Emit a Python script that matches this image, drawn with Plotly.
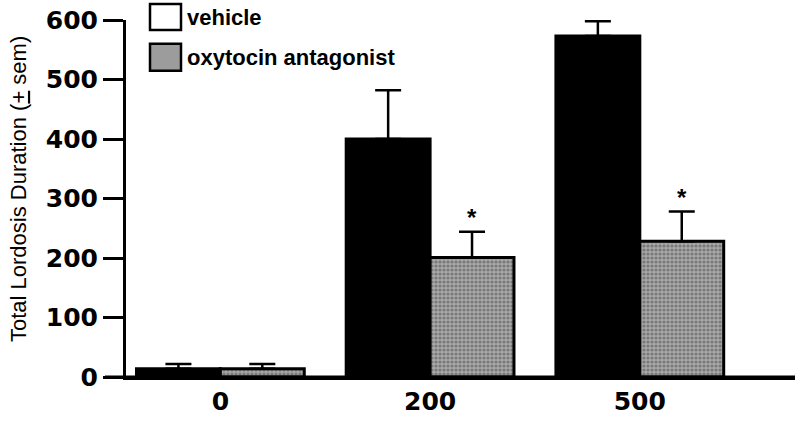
import plotly.graph_objects as go

# ── data ────────────────────────────────────────────────
doses = ["0", "200", "500"]
vehicle = [14, 400, 573]
vehicle_sem = [8, 82, 25]
antagonist = [14, 201, 228]
antagonist_sem = [8, 43, 50]
significance = ["", "*", "*"]
y_ticks = [0, 100, 200, 300, 400, 500, 600]

FONT = "Liberation Sans, Arial, sans-serif"
TICKFONT = "DejaVu Sans, sans-serif"
x_pos = list(range(len(doses)))
BARGAP = 0.2

fig = go.Figure()

fig.add_trace(go.Bar(
    x=x_pos, y=vehicle, name="vehicle",
    marker=dict(color="black", line=dict(color="black", width=3)),
    error_y=dict(type="data", array=vehicle_sem, arrayminus=[0] * 3,
                 symmetric=False, color="black", thickness=2.5, width=13),
))
fig.add_trace(go.Bar(
    x=x_pos, y=antagonist, name="oxytocin antagonist",
    marker=dict(color="#a8a8a8", line=dict(color="black", width=3),
                pattern=dict(shape=".", fgcolor="#4a4a4a", bgcolor="#a8a8a8",
                             size=4, solidity=0.5)),
    error_y=dict(type="data", array=antagonist_sem, arrayminus=[0] * 3,
                 symmetric=False, color="black", thickness=2.5, width=13),
))

# significance stars over the antagonist bars
off = (1 - BARGAP) / 4
for i, s in enumerate(significance):
    if s:
        fig.add_annotation(x=i + off, y=antagonist[i] + antagonist_sem[i],
                           text=f"<b>{s}</b>", showarrow=False, yanchor="bottom", yshift=-1,
                           font=dict(family=FONT, size=24, color="black"))

# ── hand-drawn legend (white box for vehicle as in the original) ──
L, R, T, B = 126, 5, 20, 42
W, H = 800, 421
pw, ph = W - L - R, H - T - B


def px(x):
    return (x - L) / pw


def py(y):
    return (H - B - y) / ph


legend_items = [("vehicle", "white", 4, 30), ("oxytocin antagonist", "#9c9c9c", 44, 71)]
for text, fill, y0, y1 in legend_items:
    fig.add_shape(type="rect", xref="paper", yref="paper",
                  x0=px(150), x1=px(181), y0=py(y1), y1=py(y0),
                  fillcolor=fill, line=dict(color="black", width=2.5))
    fig.add_annotation(xref="paper", yref="paper", x=px(185), y=py((y0 + y1) / 2),
                       text=f"<b>{text}</b>", showarrow=False,
                       xanchor="left", yanchor="middle",
                       font=dict(family=FONT, size=22, color="black"))

# y-axis title, placed by hand at the far left
fig.add_annotation(xref="paper", yref="paper", x=px(18), y=py(190),
                   text="Total Lordosis Duration (<u>+</u> sem)", textangle=-90,
                   showarrow=False, xanchor="center", yanchor="middle",
                   font=dict(family=FONT, size=22, color="black"))

# x-axis baseline reaching left past the y axis, as in the original
fig.add_shape(type="line", xref="paper", yref="paper",
              x0=px(105), x1=1, y0=0, y1=0, line=dict(color="black", width=3))

fig.update_layout(
    width=W, height=H,
    margin=dict(l=L, r=R, t=T, b=B),
    paper_bgcolor="white", plot_bgcolor="white",
    barmode="group", bargap=BARGAP, bargroupgap=0,
    showlegend=False,
    font=dict(family=FONT, color="black"),
)

fig.update_xaxes(
    range=[-0.45, 2.74], tickvals=x_pos, ticktext=[f"<b>{d}</b>" for d in doses],
    tickfont=dict(family=TICKFONT, size=25, color="black"),
    showline=True, linecolor="black", linewidth=3, ticks="",
    showgrid=False, zeroline=False,
)
fig.update_yaxes(
    range=[0, 600], tickvals=y_ticks,
    ticktext=[f"<b>{v}</b>" for v in y_ticks],
    tickfont=dict(family=TICKFONT, size=25, color="black"),
    ticks="outside", ticklen=20, tickwidth=3, tickcolor="black",
    showline=True, linecolor="black", linewidth=3,
    showgrid=False, zeroline=False,
)

# drop the browser's default body margin so the 800x421 figure fills the window
fig.write_html("out.html", config={"displayModeBar": False},
               post_script="document.body.style.margin='0';")
